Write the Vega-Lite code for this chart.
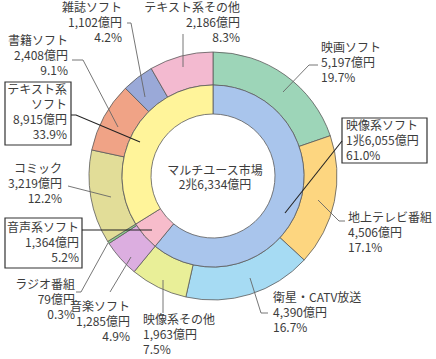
{
  "$schema": "https://vega.github.io/schema/vega-lite/v6.json",
  "width": 426,
  "height": 352,
  "padding": {"left": 0, "top": 0, "right": 10, "bottom": 7},
  "autosize": {"type": "none"},
  "background": "white",
  "config": {"view": {"stroke": null}},
  "datasets": {
    "outer": [
      {"i": 1, "name": "映画ソフト", "v": 5197},
      {"i": 2, "name": "地上テレビ番組", "v": 4506},
      {"i": 3, "name": "衛星・CATV放送", "v": 4390},
      {"i": 4, "name": "映像系その他", "v": 1963},
      {"i": 5, "name": "音楽ソフト", "v": 1285},
      {"i": 6, "name": "ラジオ番組", "v": 79},
      {"i": 7, "name": "コミック", "v": 3219},
      {"i": 8, "name": "書籍ソフト", "v": 2408},
      {"i": 9, "name": "雑誌ソフト", "v": 1102},
      {"i": 10, "name": "テキスト系その他", "v": 2186}
    ],
    "inner": [
      {"i": 1, "name": "映像系ソフト", "v": 16055},
      {"i": 2, "name": "音声系ソフト", "v": 1364},
      {"i": 3, "name": "テキスト系ソフト", "v": 8915}
    ],
    "labelsLeft": [
      {"t": "映画ソフト\n5,197億円\n19.7%", "x": 321, "y": 43},
      {"t": "映像系ソフト\n1兆6,055億円\n61.0%", "x": 346, "y": 121},
      {"t": "地上テレビ番組\n4,506億円\n17.1%", "x": 348, "y": 213},
      {"t": "衛星・CATV放送\n4,390億円\n16.7%", "x": 273, "y": 293},
      {"t": "映像系その他\n1,963億円\n7.5%", "x": 143, "y": 315}
    ],
    "labelsRight": [
      {"t": "雑誌ソフト\n1,102億円\n4.2%", "x": 122, "y": 3},
      {"t": "テキスト系その他\n2,186億円\n8.3%", "x": 240, "y": 3},
      {"t": "書籍ソフト\n2,408億円\n9.1%", "x": 68, "y": 36},
      {"t": "テキスト系\nソフト\n8,915億円\n33.9%", "x": 67, "y": 85},
      {"t": "コミック\n3,219億円\n12.2%", "x": 62, "y": 164},
      {"t": "音声系ソフト\n1,364億円\n5.2%", "x": 79, "y": 223},
      {"t": "ラジオ番組\n79億円\n0.3%", "x": 75, "y": 280},
      {"t": "音楽ソフト\n1,285億円\n4.9%", "x": 130, "y": 302}
    ],
    "center": [
      {"t": "マルチユース市場\n2兆6,334億円", "x": 215, "y": 166}
    ],
    "boxes": [
      {"id": "テキスト系ソフト", "x": 5, "x2": 71, "y": 82, "y2": 145},
      {"id": "映像系ソフト", "x": 342, "x2": 427, "y": 118, "y2": 163},
      {"id": "音声系ソフト", "x": 5, "x2": 82, "y": 218, "y2": 268}
    ],
    "leaders": [
      {"id": "雑誌ソフト", "k": 1, "x": 127, "y": 23},
      {"id": "雑誌ソフト", "k": 2, "x": 131, "y": 23},
      {"id": "雑誌ソフト", "k": 3, "x": 145, "y": 97},
      {"id": "テキスト系その他", "k": 1, "x": 183, "y": 34},
      {"id": "テキスト系その他", "k": 2, "x": 183, "y": 67},
      {"id": "書籍ソフト", "k": 1, "x": 72, "y": 60},
      {"id": "書籍ソフト", "k": 2, "x": 83, "y": 60},
      {"id": "書籍ソフト", "k": 3, "x": 118, "y": 127},
      {"id": "映画ソフト", "k": 1, "x": 318, "y": 65},
      {"id": "映画ソフト", "k": 2, "x": 309, "y": 65},
      {"id": "映画ソフト", "k": 3, "x": 283, "y": 92},
      {"id": "地上テレビ番組", "k": 1, "x": 345, "y": 221},
      {"id": "地上テレビ番組", "k": 2, "x": 339, "y": 221},
      {"id": "地上テレビ番組", "k": 3, "x": 318, "y": 200},
      {"id": "衛星・CATV放送", "k": 1, "x": 268, "y": 313},
      {"id": "衛星・CATV放送", "k": 2, "x": 261, "y": 313},
      {"id": "衛星・CATV放送", "k": 3, "x": 250, "y": 278},
      {"id": "映像系その他", "k": 1, "x": 163, "y": 313},
      {"id": "映像系その他", "k": 2, "x": 163, "y": 280},
      {"id": "音楽ソフト", "k": 1, "x": 110, "y": 292},
      {"id": "音楽ソフト", "k": 2, "x": 131, "y": 257},
      {"id": "ラジオ番組", "k": 1, "x": 76, "y": 292},
      {"id": "ラジオ番組", "k": 2, "x": 81, "y": 292},
      {"id": "ラジオ番組", "k": 3, "x": 108, "y": 243},
      {"id": "コミック", "k": 1, "x": 68, "y": 186},
      {"id": "コミック", "k": 2, "x": 111, "y": 197}
    ],
    "boxLeaders": [
      {"id": "テキスト系ソフト", "k": 1, "x": 71, "y": 115},
      {"id": "テキスト系ソフト", "k": 2, "x": 76, "y": 115},
      {"id": "テキスト系ソフト", "k": 3, "x": 140, "y": 142},
      {"id": "映像系ソフト", "k": 1, "x": 342, "y": 141},
      {"id": "映像系ソフト", "k": 2, "x": 285, "y": 213},
      {"id": "音声系ソフト", "k": 1, "x": 82, "y": 230},
      {"id": "音声系ソフト", "k": 2, "x": 152, "y": 230}
    ]
  },
  "resolve": {"scale": {"theta": "independent"}},
  "layer": [
    {
      "data": {"name": "outer"},
      "mark": {"type": "arc", "radius": 124, "radius2": 91, "stroke": "#5a5a5a", "strokeWidth": 0.8},
      "encoding": {
        "theta": {"field": "v", "type": "quantitative", "stack": true},
        "order": {"field": "i", "type": "quantitative"},
        "color": {
          "field": "name", "type": "nominal", "legend": null,
          "scale": {
            "domain": ["映画ソフト", "地上テレビ番組", "衛星・CATV放送", "映像系その他", "音楽ソフト", "ラジオ番組", "コミック", "書籍ソフト", "雑誌ソフト", "テキスト系その他", "映像系ソフト", "音声系ソフト", "テキスト系ソフト"],
            "range": ["#9dd5b8", "#fdd680", "#a6dbf3", "#e9ef98", "#dcaee0", "#8fcf8f", "#e2dd98", "#f0a386", "#9aa9d8", "#f3bad0", "#a9c5ec", "#f7bccb", "#fff49a"]
          }
        }
      }
    },
    {
      "data": {"name": "inner"},
      "mark": {"type": "arc", "radius": 91, "radius2": 62, "stroke": "#5a5a5a", "strokeWidth": 0.8},
      "encoding": {
        "theta": {"field": "v", "type": "quantitative", "stack": true},
        "order": {"field": "i", "type": "quantitative"},
        "color": {
          "field": "name", "type": "nominal", "legend": null,
          "scale": {
            "domain": ["映画ソフト", "地上テレビ番組", "衛星・CATV放送", "映像系その他", "音楽ソフト", "ラジオ番組", "コミック", "書籍ソフト", "雑誌ソフト", "テキスト系その他", "映像系ソフト", "音声系ソフト", "テキスト系ソフト"],
            "range": ["#9dd5b8", "#fdd680", "#a6dbf3", "#e9ef98", "#dcaee0", "#8fcf8f", "#e2dd98", "#f0a386", "#9aa9d8", "#f3bad0", "#a9c5ec", "#f7bccb", "#fff49a"]
          }
        }
      }
    },
    {
      "data": {"name": "leaders"},
      "mark": {"type": "line", "color": "#666666", "strokeWidth": 0.9},
      "encoding": {
        "x": {"field": "x", "type": "quantitative", "axis": null, "scale": {"domain": [0, 426], "nice": false, "zero": false}},
        "y": {"field": "y", "type": "quantitative", "axis": null, "scale": {"domain": [0, 352], "nice": false, "zero": false, "reverse": true}},
        "detail": {"field": "id", "type": "nominal"},
        "order": {"field": "k", "type": "quantitative"}
      }
    },
    {
      "data": {"name": "boxes"},
      "mark": {"type": "rect", "fill": "white", "stroke": "#333333", "strokeWidth": 1.2},
      "encoding": {
        "x": {"field": "x", "type": "quantitative"},
        "x2": {"field": "x2"},
        "y": {"field": "y", "type": "quantitative"},
        "y2": {"field": "y2"}
      }
    },
    {
      "data": {"name": "boxLeaders"},
      "mark": {"type": "line", "color": "#222222", "strokeWidth": 1.1},
      "encoding": {
        "x": {"field": "x", "type": "quantitative"},
        "y": {"field": "y", "type": "quantitative"},
        "detail": {"field": "id", "type": "nominal"},
        "order": {"field": "k", "type": "quantitative"}
      }
    },
    {
      "data": {"name": "labelsLeft"},
      "mark": {"type": "text", "align": "left", "baseline": "top", "lineBreak": "\n", "lineHeight": 15, "font": "Noto Sans CJK JP", "fontSize": 12, "color": "#3c3c3c"},
      "encoding": {
        "x": {"field": "x", "type": "quantitative"},
        "y": {"field": "y", "type": "quantitative"},
        "text": {"field": "t"}
      }
    },
    {
      "data": {"name": "labelsRight"},
      "mark": {"type": "text", "align": "right", "baseline": "top", "lineBreak": "\n", "lineHeight": 15, "font": "Noto Sans CJK JP", "fontSize": 12, "color": "#3c3c3c"},
      "encoding": {
        "x": {"field": "x", "type": "quantitative"},
        "y": {"field": "y", "type": "quantitative"},
        "text": {"field": "t"}
      }
    },
    {
      "data": {"name": "center"},
      "mark": {"type": "text", "align": "center", "baseline": "top", "lineBreak": "\n", "lineHeight": 14, "font": "Noto Sans CJK JP", "fontSize": 12, "color": "#3c3c3c"},
      "encoding": {
        "x": {"field": "x", "type": "quantitative"},
        "y": {"field": "y", "type": "quantitative"},
        "text": {"field": "t"}
      }
    }
  ]
}
